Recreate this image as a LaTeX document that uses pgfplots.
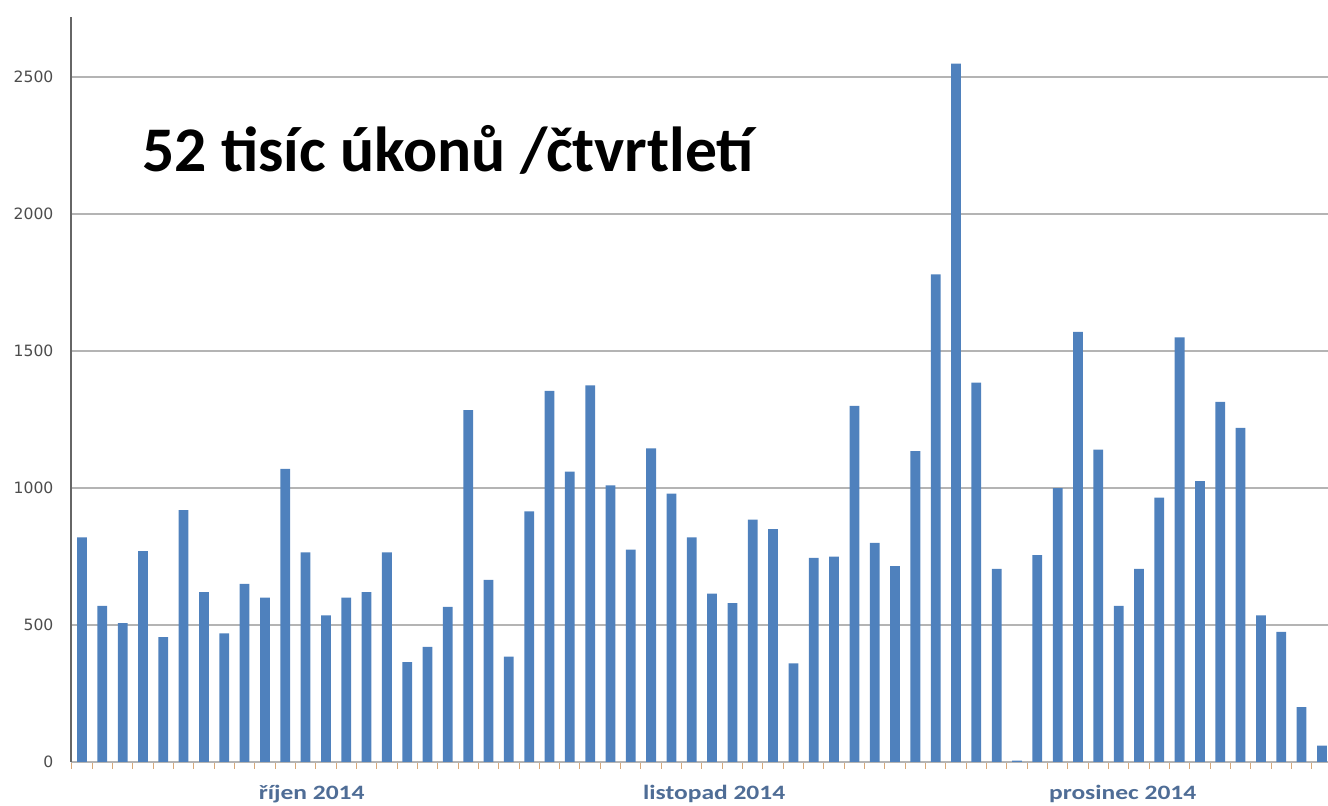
\documentclass[border=0pt]{standalone}
\usepackage{pgfplots}
\pgfplotsset{compat=1.18}
\usetikzlibrary{calc}
\usepackage{fontspec}
\setmainfont{Carlito}
\newfontfamily\tickfont{DejaVu Sans}
\newfontfamily\monthfont[FakeStretch=1.25]{Carlito}
\definecolor{barblue}{HTML}{4F81BD}
\definecolor{monthblue}{HTML}{4F6D96}
\definecolor{gridgray}{HTML}{B4B4B4}
\definecolor{ticktan}{HTML}{D8A878}

% denni pocty ukonu, Q4 2014 (pracovni dny)
\pgfplotstableread{
i v
0 820
1 570
2 507
3 770
4 456
5 920
6 620
7 470
8 650
9 600
10 1070
11 765
12 535
13 600
14 620
15 765
16 365
17 420
18 566
19 1285
20 665
21 385
22 915
23 1355
24 1060
25 1375
26 1010
27 775
28 1145
29 980
30 820
31 615
32 580
33 885
34 850
35 360
36 745
37 750
38 1300
39 800
40 715
41 1135
42 1780
43 2550
44 1385
45 705
46 5
47 755
48 1000
49 1570
50 1140
51 570
52 705
53 965
54 1550
55 1025
56 1315
57 1220
58 535
59 475
60 200
61 60
}\ukony

\begin{document}
\begin{tikzpicture}
\begin{axis}[
  scale only axis, width=628.5pt, height=372.5pt,
  xmin=-0.54, xmax=61.3,
  ymin=0, ymax=2720,
  axis x line*=bottom, axis y line*=left,
  x axis line style={draw=gridgray, line width=0.9pt},
  y axis line style={draw=black!60, line width=0.6pt},
  ytick={0,500,1000,1500,2000,2500},
  yticklabels={0,500,1000,1500,2000,2500},
  yticklabel style={font=\tickfont\fontsize{7.8}{8}\selectfont, text=black!70, xshift=-1pt},
  ymajorgrids, grid style={gridgray, line width=0.9pt},
  ytick style={draw=none},
  xtick={11.3,31.1,51.2},
  xticklabels={říjen 2014, listopad 2014, prosinec 2014},
  xticklabel style={font=\monthfont\bfseries\fontsize{10.2}{12}\selectfont, text=monthblue, yshift=-4pt},
  xtick style={draw=none},
  minor xtick={-0.5,0.5,...,61.5},
  minor tick length=3.5pt,
  tick align=outside,
  minor x tick style={draw=ticktan, line width=0.5pt},
  clip=false,
]
\addplot[ybar, bar width=0.48, fill=barblue, draw=none] table[x=i, y=v] {\ukony};
\coordinate (O) at (rel axis cs:0,0);
\end{axis}
\node[anchor=base west, font=\bfseries\fontsize{31.8}{36}\selectfont, inner sep=0pt] at ($(O)+(35.5pt,295pt)$) {52 tisíc úkonů /čtvrtletí};
\pgfresetboundingbox
\useasboundingbox ($(O)+(-35.5pt,-22pt)$) rectangle ($(O)+(628.5pt,381pt)$);
\end{tikzpicture}
\end{document}
